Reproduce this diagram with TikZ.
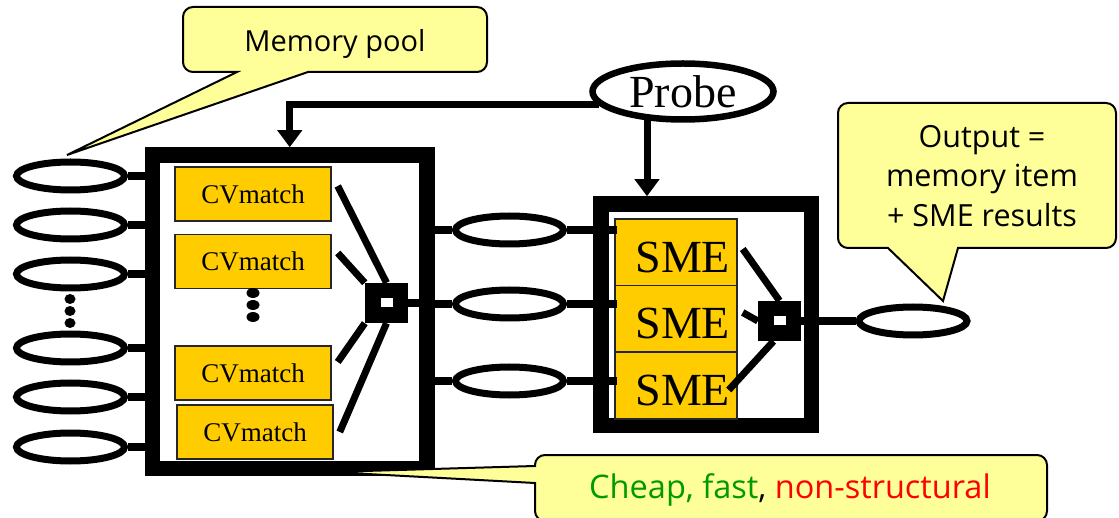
\documentclass[tikz,border=0pt]{standalone}
\usepackage{fontspec}
\setmainfont{Liberation Serif}
\setsansfont{Open Sans}
\usetikzlibrary{shapes.geometric,arrows.meta,calc}
\definecolor{gold}{HTML}{FFCC00}
\definecolor{note}{HTML}{FFFF99}
\definecolor{okgreen}{HTML}{009900}
\begin{document}
\begin{tikzpicture}[x=1pt,y=-1pt,
  oval/.style={ellipse, draw, line width=7pt, minimum width=108pt,
    minimum height=28pt, inner sep=0pt, fill=white},
  wire/.style={line width=8pt},
  feed/.style={line width=7pt, -{Triangle[width=24pt,length=17pt]}},
  spoke/.style={line width=7pt},
  frame/.style={draw, line width=15.5pt, inner sep=0pt},
  cvbox/.style={draw=black!85, line width=1.5pt, fill=gold,
    minimum width=156pt, minimum height=54pt, inner sep=0pt,
    font=\fontsize{27}{27}\selectfont},
  smecell/.style={draw=black!85, line width=1.5pt, fill=gold,
    text width=108pt, align=right, inner xsep=7pt, inner ysep=0pt,
    minimum height=66.5pt, text height=40pt, text depth=0pt,
    font=\fontsize{46}{46}\selectfont},
  mux/.style={fill=black, minimum width=43pt, minimum height=40pt, inner sep=0pt},
  hole/.style={fill=white, minimum width=12pt, minimum height=9pt, inner sep=0pt},
  callout/.style={draw=black, line width=2pt, fill=note},
  notetext/.style={font=\sffamily\fontsize{29}{29}\selectfont, inner sep=0pt}]
\useasboundingbox (0,0) rectangle (1119,518);

% memory pool
\foreach \n/\y in {1/176,2/225,3/274,4/348,5/397,6/447}
  \node[oval] (m\n) at (70.5,\y) {};
\foreach \y in {299,311,323}
  \fill (70,\y) ellipse[x radius=5.5, y radius=5];

% matcher stage
\node[frame, minimum width=274.5pt, minimum height=313.5pt] (cvframe) at (289.75,311.75) {};
\node[cvbox] (cv1) at (253,194) {CVmatch};
\node[cvbox] (cv2) at (253,261.5) {CVmatch};
\node[cvbox] (cv3) at (253,373) {CVmatch};
\node[cvbox] (cv4) at (255,432) {CVmatch};
\foreach \y in {293,305,317}
  \fill (253,\y) ellipse[x radius=6.5, y radius=5];
\node[mux] (mux) at (386.5,303) {};
\node[hole] (muxhole) at (mux) {};

\foreach \n in {1,...,6}
  \draw[wire] (m\n.east) -- (m\n -| cvframe.west);
\draw[spoke] ($(cv1.east)+(6,-8)$) -- (mux.north);
\draw[spoke] ($(cv2.east)+(6,-8.5)$) -- (mux.north west);
\draw[spoke] ($(cv3.east)+(6,-11)$) -- (mux.south west);
\draw[spoke] ($(cv4.east)+(6,0)$) -- (mux.south);
\draw[wire] (mux.east) -- (mux -| cvframe.east);

% candidate items
\node[oval] (q1) at (509.5,230) {};
\node[oval] (q2) at (509.5,304) {};
\node[oval] (q3) at (509.5,381) {};

% structure-mapping stage
\node[frame, minimum width=210.5pt, minimum height=221.5pt] (smeframe) at (706.25,314.75) {};
\node[smecell] (s1) at (676,252.5) {SME};
\node[smecell] (s2) at (676,319) {SME};
\node[smecell] (s3) at (676,385.5) {SME};
\node[mux] (smux) at (779.5,321) {};
\node[hole] (smuxhole) at (smux) {};

\foreach \n in {1,2,3} {
  \draw[wire] (q\n -| cvframe.east) -- (q\n.west);
  \draw[wire] (q\n.east) -- ($(q\n -| s1.west)+(3,0)$);
}
\draw[spoke] ($(s1.east)+(5,-3.5)$) -- (smux.north);
\draw[spoke] ($(s2.east)+(5,-6.5)$) -- (smux.west);
\draw[spoke] ($(s3.east)+(-9,4.5)$) -- ($(smux.south)+(-6,0)$);

\node[oval] (out) at (913,321) {};
\draw[wire] (smux.east) -- (out.west);

% probe
\node[ellipse, draw, line width=6.5pt, fill=white, minimum width=181pt,
  minimum height=56pt, inner sep=0pt, font=\fontsize{46}{46}\selectfont]
  (probe) at (683,91.5) {Probe};
\coordinate (pl) at ($(probe.center)+(-84,13.5)$);
\coordinate (pd) at ($(probe.center)+(-36,26)$);
\draw[feed] (pl) -| (cvframe.north);
\draw[feed] (pd) -- (pd |- smeframe.north);

% callouts
\draw[callout] (193,7) -- (477,7) arc[start angle=-90,end angle=0,radius=10]
  -- (487,62) arc[start angle=0,end angle=90,radius=10]
  -- (308,72) -- (67,155) -- (237,72)
  -- (193,72) arc[start angle=90,end angle=180,radius=10]
  -- (183,17) arc[start angle=180,end angle=270,radius=10] -- cycle;
\node[notetext, anchor=base] (pooltext) at (335,52) {Memory pool};

\draw[callout] (848,103) -- (1106,103) arc[start angle=-90,end angle=0,radius=10]
  -- (1116,238) arc[start angle=0,end angle=90,radius=10]
  -- (958,248) -- (943,301) -- (888,248)
  -- (848,248) arc[start angle=90,end angle=180,radius=10]
  -- (838,113) arc[start angle=180,end angle=270,radius=10] -- cycle;
\begin{scope}[notetext/.append style={font=\sffamily\fontsize{30.5}{30.5}\selectfont}]
\node[notetext, anchor=base] (out1) at (982,148) {Output =};
\node[notetext, anchor=base] (out2) at (982,187) {memory item};
\node[notetext, anchor=base] (out3) at (982,227) {+ SME results};
\end{scope}

\draw[callout] (545,455) -- (1037,455) arc[start angle=-90,end angle=0,radius=10]
  -- (1047,511) arc[start angle=0,end angle=90,radius=10]
  -- (545,521) arc[start angle=90,end angle=180,radius=10]
  -- (535,483) -- (330,472) -- (535,466)
  -- (535,465) arc[start angle=180,end angle=270,radius=10] -- cycle;
\node[notetext, anchor=base, font=\sffamily\fontsize{32.5}{32.5}\selectfont]
  (costtext) at (790,498)
  {\textcolor{okgreen}{Cheap, fast}, \textcolor{red}{non-structural}};
\end{tikzpicture}
\end{document}
